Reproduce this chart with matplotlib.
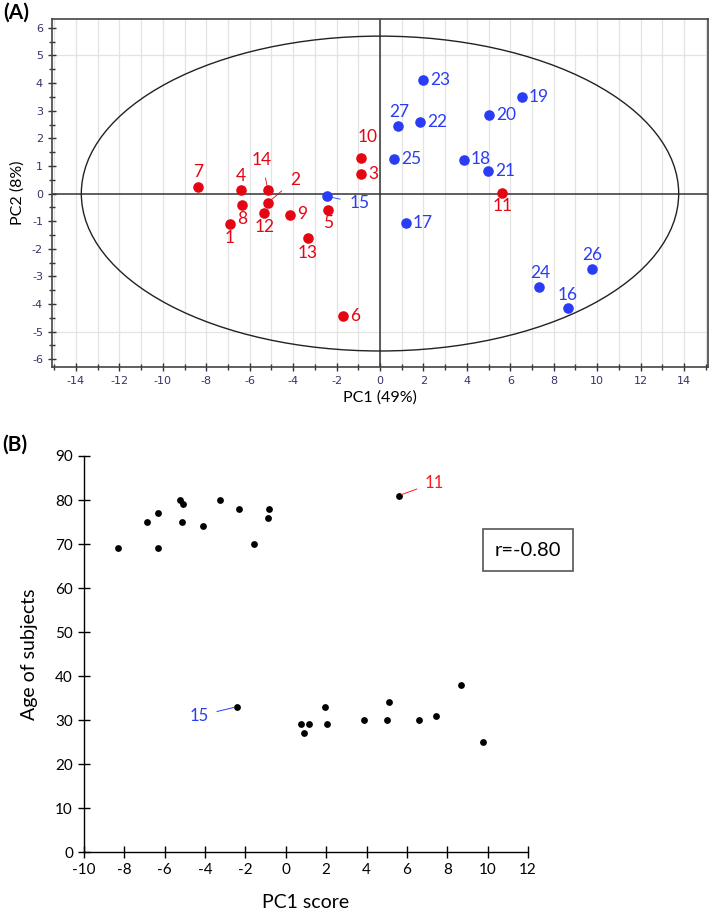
import numpy as np
import matplotlib
matplotlib.use("Agg")
import matplotlib.pyplot as plt
from matplotlib.patches import Ellipse
from matplotlib.ticker import MultipleLocator

plt.rcParams["axes.unicode_minus"] = False

# ---- data: panel A (PCA scores) ----
elderly_ids = ["1", "2", "3", "4", "5", "6", "7", "8", "9", "10", "11", "12", "13", "14"]
elderly_pc1 = [-6.91, -5.16, -0.87, -6.41, -2.41, -1.70, -8.39, -6.36, -4.15, -0.87, 5.62, -5.33, -3.31, -5.16]
elderly_pc2 = [-1.09, -0.33, 0.71, 0.14, -0.61, -4.43, 0.22, -0.41, -0.77, 1.29, 0.03, -0.72, -1.60, 0.12]

young_ids = ["15", "16", "17", "18", "19", "20", "21", "22", "23", "24", "25", "26", "27"]
young_pc1 = [-2.45, 8.66, 1.20, 3.87, 6.54, 5.02, 4.98, 1.84, 1.98, 7.33, 0.65, 9.77, 0.83]
young_pc2 = [-0.10, -4.15, -1.08, 1.23, 3.50, 2.85, 0.82, 2.60, 4.12, -3.39, 1.26, -2.74, 2.45]

# Hotelling ellipse semi-axes
ell_a = 13.75
ell_b = 5.7

# ---- data: panel B (age vs PC1) ----
pc1_score = [-8.32, -6.86, -6.33, -6.33, -5.25, -5.07, -5.15, -4.11, -3.27, -2.33, -1.60, -0.83, -0.89,
             5.60, -2.43, 0.73, 1.15, 0.90, 1.93, 2.04, 3.86, 5.00, 5.10, 6.58, 7.42, 8.66, 9.75]
age = [69, 75, 77, 69, 80, 79, 75, 74, 80, 78, 70, 78, 76,
       81, 33, 29, 29, 27, 33, 29, 30, 30, 34, 30, 31, 38, 25]
r_value = -0.80

RED = "#e30613"
BLUE = "#2a3cf5"
TICKC = "#33336b"

# label offsets in pixels (dx, dy, ha, va, leader line)
lab_off = {
    "1": (0, -14, "center", "center", False), "2": (27, 23, "center", "center", True),
    "3": (7, 0, "left", "center", False), "4": (0, 14, "center", "center", False),
    "5": (0, -13, "center", "center", False), "6": (7, 0, "left", "center", False),
    "7": (0, 15, "center", "center", False), "8": (0, -14, "center", "center", False),
    "9": (7, 1, "left", "center", False), "10": (7, 21, "center", "center", True),
    "11": (1, -13, "center", "center", False), "12": (0, -14, "center", "center", False),
    "13": (0, -15, "center", "center", False), "14": (-6, 30, "center", "center", True),
    "15": (23, -7, "left", "center", True), "16": (0, 13, "center", "center", False),
    "17": (7, 0, "left", "center", False), "18": (7, 1, "left", "center", False),
    "19": (7, 0, "left", "center", False), "20": (7, 0, "left", "center", False),
    "21": (7, 0, "left", "center", False), "22": (7, 0, "left", "center", False),
    "23": (7, 0, "left", "center", False), "24": (1, 14, "center", "center", False),
    "25": (7, 0, "left", "center", False), "26": (0, 14, "center", "center", False),
    "27": (1, 14, "center", "center", False),
}

fig = plt.figure(figsize=(7.09, 9.14), dpi=100)

# ================= Panel A =================
ax = fig.add_axes([52 / 709, 1 - 367 / 914, 656 / 709, 348 / 914])
ax.set_xlim(-15.1, 15.1)
ax.set_ylim(-6.28, 6.32)

for v in np.arange(-15, 16, 1):
    ax.axvline(v, color="#e3e3e3", lw=0.9, zorder=0)
for v in [-5, 5]:
    ax.axhline(v, color="#e3e3e3", lw=0.9, zorder=0)
ax.axhline(0, color="#333333", lw=1.1, zorder=1)
ax.axvline(0, color="#333333", lw=1.1, zorder=1)

ax.add_patch(Ellipse((0, 0), 2 * ell_a, 2 * ell_b, fill=False, ec="#222222", lw=1.0, zorder=2))

ax.scatter(elderly_pc1, elderly_pc2, s=58, color=RED, zorder=4, linewidths=0)
ax.scatter(young_pc1, young_pc2, s=58, color=BLUE, zorder=4, linewidths=0)

for ids, xs, ys, col in [(elderly_ids, elderly_pc1, elderly_pc2, RED), (young_ids, young_pc1, young_pc2, BLUE)]:
    for i, x, y in zip(ids, xs, ys):
        dx, dy, ha, va, line = lab_off[i]
        ax.annotate(i, (x, y), xytext=(dx, dy), textcoords="offset pixels", ha=ha, va=va,
                    color=col, fontsize=12.5, family="Lato", zorder=5,
                    arrowprops=dict(arrowstyle="-", color=col, lw=0.6, shrinkA=5, shrinkB=2) if line else None)

ax.xaxis.set_major_locator(MultipleLocator(2))
ax.xaxis.set_minor_locator(MultipleLocator(1))
ax.yaxis.set_major_locator(MultipleLocator(1))
ax.yaxis.set_minor_locator(MultipleLocator(0.5))
ax.tick_params(which="both", direction="inout", color="#333333", labelcolor=TICKC, labelsize=8)
ax.tick_params(which="major", length=6, width=1)
ax.tick_params(which="minor", length=4, width=1)
for t in ax.get_xticklabels() + ax.get_yticklabels():
    t.set_family("DejaVu Sans")
for sp in ax.spines.values():
    sp.set_color("#444444")
    sp.set_linewidth(1.2)

ax.set_xlabel("PC1 (49%)", fontsize=11.5, family="Lato", labelpad=3)
ax.set_ylabel("PC2 (8%)", fontsize=11.5, family="Lato", labelpad=5)
fig.text(3 / 709, 1 - 13 / 914, "(A)", fontsize=15, fontweight="bold", family="Lato", va="center")

# ================= Panel B =================
bx = fig.add_axes([84 / 709, 1 - 852 / 914, 444 / 709, 396 / 914])
bx.set_xlim(-10, 12)
bx.set_ylim(0, 90)
bx.scatter(pc1_score, age, s=24, color="black", zorder=3, linewidths=0)

bx.annotate("11", (pc1_score[13], age[13]), xytext=(26, 13), textcoords="offset pixels",
            ha="left", va="center", color="#ff1a1a", fontsize=12, family="Lato",
            arrowprops=dict(arrowstyle="-", color="#ff1a1a", lw=0.7, shrinkA=4, shrinkB=2))
bx.annotate("15", (pc1_score[14], age[14]), xytext=(-28, -9), textcoords="offset pixels",
            ha="right", va="center", color="#2a3cf5", fontsize=12, family="Lato",
            arrowprops=dict(arrowstyle="-", color="#2a3cf5", lw=0.7, shrinkA=4, shrinkB=2))

bx.text(528 / 709, 1 - 550 / 914, "r=%.2f" % r_value, transform=fig.transFigure, ha="center", va="center",
        fontsize=14.5, family="Lato",
        bbox=dict(boxstyle="square,pad=0.6", fc="white", ec="#555555", lw=1.2))

bx.xaxis.set_major_locator(MultipleLocator(2))
bx.yaxis.set_major_locator(MultipleLocator(10))
bx.spines["top"].set_visible(False)
bx.spines["right"].set_visible(False)
for sp in ["left", "bottom"]:
    bx.spines[sp].set_linewidth(1.0)
bx.tick_params(direction="inout", length=8, width=1, labelsize=11, pad=4)
for t in bx.get_xticklabels() + bx.get_yticklabels():
    t.set_family("Lato")
bx.set_xlabel("PC1 score", fontsize=14, family="Lato", labelpad=12)
bx.set_ylabel("Age of subjects", fontsize=14, family="Lato", labelpad=12)
fig.text(2 / 709, 1 - 445 / 914, "(B)", fontsize=15, fontweight="bold", family="Lato", va="center")

fig.savefig("out.png", dpi=100)
